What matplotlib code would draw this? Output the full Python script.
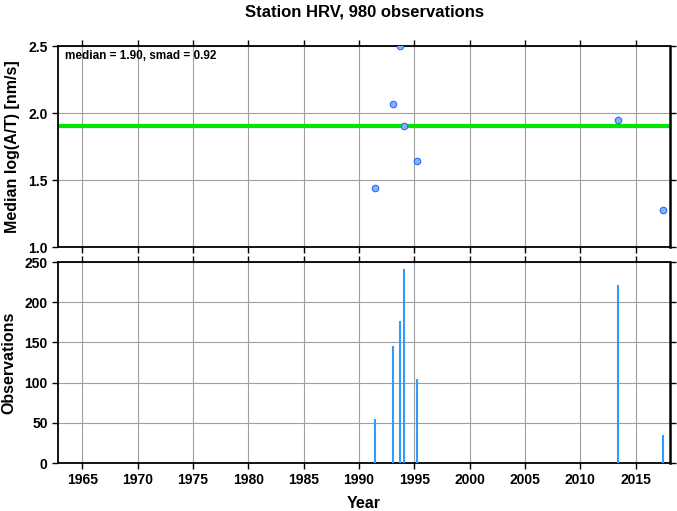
import matplotlib
matplotlib.use("Agg")
import matplotlib.pyplot as plt

plt.rcParams['font.family'] = ['Liberation Sans', 'DejaVu Sans']
plt.rcParams['font.weight'] = 'bold'

# data
years = [1991.4, 1993.1, 1993.7, 1994.1, 1995.2, 2013.4, 2017.5]
median_logat = [1.44, 2.07, 2.50, 1.90, 1.64, 1.95, 1.28]
n_obs = [55, 146, 177, 241, 105, 221, 35]
overall_median = 1.90
smad = 0.92
station = "HRV"

xticks = list(range(1965, 2020, 5))
yticks_top = [1.0, 1.5, 2.0, 2.5]
yticks_bot = [0, 50, 100, 150, 200, 250]

fig = plt.figure(figsize=(6.77, 5.11), dpi=100)
ax1 = fig.add_axes([0.0857, 0.5166, 0.904, 0.3933])
ax2 = fig.add_axes([0.0857, 0.0939, 0.904, 0.3933])

for ax in (ax1, ax2):
    ax.set_xlim(1962.8, 2018.1)
    ax.set_xticks(xticks)
    ax.grid(True, color="#a0a0a0", lw=0.8)
    ax.set_axisbelow(True)
    ax.tick_params(direction="out", length=4, width=1, top=True, right=True,
                   labelsize=10)
    for s in ax.spines.values():
        s.set_linewidth(1.3)
    ax.spines["right"].set_linewidth(1.8)
    for lab in ax.get_xticklabels() + ax.get_yticklabels():
        lab.set_fontweight("bold")

# top panel
ax1.set_ylim(1.0, 2.5)
ax1.set_yticks(yticks_top)
ax1.set_yticklabels([f"{v:.1f}" for v in yticks_top], fontweight="bold")
ax1.tick_params(labelbottom=False)
ax1.axhline(overall_median, color="#00e600", lw=3, zorder=2)
ax1.scatter(years, median_logat, s=22, facecolor="#80b3ff", edgecolor="#3366ff",
            lw=0.8, zorder=3)
ax1.text(0.011, 0.98, f"median = {overall_median:.2f}, smad = {smad:.2f}",
         transform=ax1.transAxes, ha="left", va="top", fontsize=8.5, fontweight="bold")
ax1.set_ylabel("Median log(A/T) [nm/s]", fontsize=11.5, fontweight="bold", labelpad=6)
ax1.set_title(f"Station {station}, {sum(n_obs)} observations", fontsize=12,
              fontweight="bold", pad=21)

# bottom panel
ax2.set_ylim(0, 250)
ax2.set_yticks(yticks_bot)
ax2.vlines(years, 0, n_obs, color="#3399ff", lw=1.5, zorder=3)
ax2.set_xticklabels([str(x) for x in xticks], fontweight="bold")
ax2.set_ylabel("Observations", fontsize=11.5, fontweight="bold", labelpad=6)
ax2.set_xlabel("Year", fontsize=11.5, fontweight="bold", labelpad=6)

fig.savefig("out.png", dpi=100)
